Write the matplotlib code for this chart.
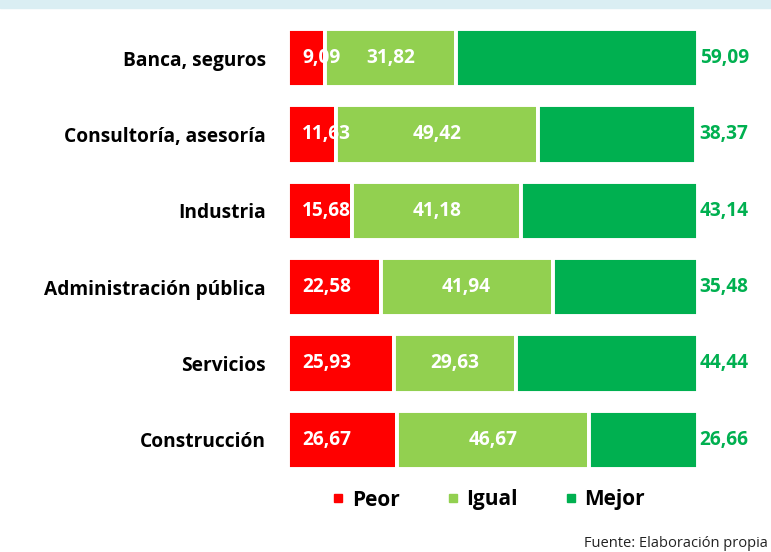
import matplotlib.pyplot as plt
from matplotlib.patches import Rectangle
from matplotlib.lines import Line2D

plt.rcParams['font.family'] = ['Open Sans', 'DejaVu Sans']

sectores = ['Banca, seguros', 'Consultoría, asesoría', 'Industria',
            'Administración pública', 'Servicios', 'Construcción']
peor = [9.09, 11.63, 15.68, 22.58, 25.93, 26.67]
igual = [31.82, 49.42, 41.18, 41.94, 29.63, 46.67]
mejor = [59.09, 38.37, 43.14, 35.48, 44.44, 26.66]
series = ['Peor', 'Igual', 'Mejor']
colores = ['#FF0000', '#92D050', '#00B050']


def fmt(v):
    return f'{v:.2f}'.replace('.', ',')


fig = plt.figure(figsize=(7.71, 5.52), dpi=100)
fig.patches.append(Rectangle((0, 1 - 8 / 552), 1, 8 / 552, transform=fig.transFigure,
                             color='#DAEEF3', zorder=0))

ax = fig.add_axes([288 / 771, 1 - 478 / 552, 410 / 771, 458 / 552])
y = range(len(sectores))
izq = [0] * len(sectores)
for nombre, vals, col in zip(series, [peor, igual, mejor], colores):
    ax.barh(y, vals, left=izq, height=0.76, color=col, edgecolor='white',
            linewidth=2.8, label=nombre, zorder=2)
    izq = [a + b for a, b in zip(izq, vals)]

fs = 13.8
for i in y:
    ax.text(3.5, i, fmt(peor[i]), color='white', fontsize=fs, fontweight='bold',
            ha='left', va='center', zorder=5)
    ax.text(peor[i] + igual[i] / 2, i, fmt(igual[i]), color='white', fontsize=fs,
            fontweight='bold', ha='center', va='center', zorder=5)
    ax.text(100.4, i, fmt(mejor[i]), color='#00B050', fontsize=fs,
            fontweight='bold', ha='left', va='center', zorder=5, clip_on=False)

ax.set_xlim(0, 100)
ax.set_ylim(5.5, -0.5)
ax.set_yticks(list(y))
ax.set_yticklabels(sectores, fontsize=fs, fontweight='bold')
ax.tick_params(axis='y', length=0, pad=16)
ax.set_xticks([])
for s in ax.spines.values():
    s.set_visible(False)

handles = [Line2D([], [], marker='s', linestyle='', markersize=5.5, color=c) for c in colores]
leg = fig.legend(handles, series, loc='center', bbox_to_anchor=(486 / 771, 1 - 500 / 552),
                 ncol=3, frameon=False, handletextpad=0.1, columnspacing=2.0,
                 handlelength=1.1, prop={'weight': 'bold', 'size': 15})

fig.text(768 / 771, 1 - 551 / 552, 'Fuente: Elaboración propia', ha='right', va='bottom',
         fontsize=10.5, color='#222222')

fig.savefig('out.png', dpi=100)
